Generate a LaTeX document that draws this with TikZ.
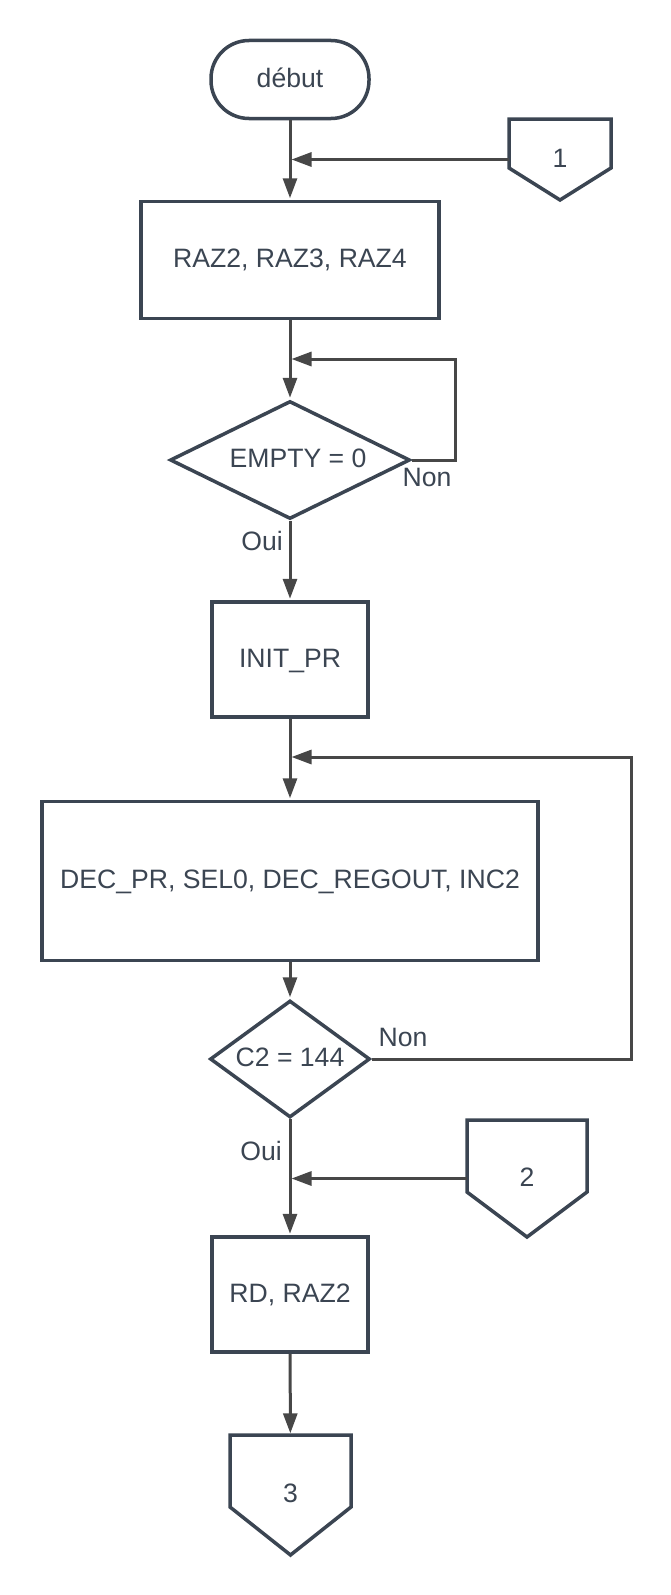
\documentclass[tikz,border=0pt]{standalone}
\usepackage{fontspec}
\setmainfont{Liberation Sans}
\usetikzlibrary{shapes.geometric,arrows.meta}
\definecolor{slate}{HTML}{3B4552}
\definecolor{conn}{HTML}{474747}
\begin{document}
\begin{tikzpicture}[x=1pt,y=-1pt,
  every node/.style={font=\fontsize{26.6}{30}\selectfont, text=slate},
  shapebox/.style={draw=slate, line width=3.5pt, fill=white, text height=19pt, text depth=4pt, inner sep=0pt},
  proc/.style={shapebox, rectangle},
  term/.style={shapebox, rectangle, rounded corners=38pt},
  dec/.style={shapebox, diamond},
  pent/.style={rectangle, inner sep=0pt, text height=19pt, text depth=4pt},
  pentline/.style={draw=slate, line width=3.5pt, fill=white},
  lab/.style={inner sep=0pt, text height=19pt, text depth=0pt},
  flow/.style={draw=conn, line width=3pt, shorten >=1.5pt, -{Triangle[length=20pt,width=14pt]}},
  ]
\useasboundingbox (0,0) rectangle (670,1595);

% pentagon outlines (off-page connectors)
\coordinate (p1nw) at (509,119); \coordinate (p1ne) at (611,119);
\coordinate (p1se) at (611,168); \coordinate (p1s) at (560,200); \coordinate (p1sw) at (509,168);
\draw[pentline] (p1nw) -- (p1ne) -- (p1se) -- (p1s) -- (p1sw) -- cycle;
\coordinate (p2nw) at (467,1120); \coordinate (p2ne) at (587,1120);
\coordinate (p2se) at (587,1192); \coordinate (p2s) at (527,1237); \coordinate (p2sw) at (467,1192);
\draw[pentline] (p2nw) -- (p2ne) -- (p2se) -- (p2s) -- (p2sw) -- cycle;
\coordinate (p3nw) at (230,1435); \coordinate (p3ne) at (351,1435);
\coordinate (p3se) at (351,1507); \coordinate (p3s) at (290.5,1555); \coordinate (p3sw) at (230,1507);
\draw[pentline] (p3nw) -- (p3ne) -- (p3se) -- (p3s) -- (p3sw) -- cycle;

% nodes
\node[term, minimum width=158pt, minimum height=78pt] (start) at (290,79.5) {début};
\node[proc, minimum width=298pt, minimum height=117pt] (raz) at (290,260) {RAZ2, RAZ3, RAZ4};
\node[dec, shape aspect=2, minimum width=240pt, minimum height=118pt] (d1) at (290,460) {\hspace*{16pt}EMPTY = 0};
\node[proc, minimum width=156pt, minimum height=115pt] (init) at (290,659.5) {INIT\_PR};
\node[proc, minimum width=496pt, minimum height=159pt] (dec) at (290,881) {DEC\_PR, SEL0, DEC\_REGOUT, INC2};
\node[dec, shape aspect=1.36, minimum width=160pt, minimum height=117pt] (d2) at (290,1059) {C2 = 144};
\node[proc, minimum width=156pt, minimum height=115pt] (rd) at (290,1294.5) {RD, RAZ2};
\node[pent, minimum width=102pt, minimum height=81pt] (p1) at (560,159.5) {1};
\node[pent, minimum width=120pt, minimum height=117pt] (p2) at (527,1178.5) {2};
\node[pent, minimum width=121pt, minimum height=120pt] (p3) at (290.5,1495) {3};

% labels
\node[lab] (oui1) at (262,541) {Oui};
\node[lab] (non1) at (427,477) {Non};
\node[lab] (non2) at (403,1037) {Non};
\node[lab] (oui2) at (261,1151) {Oui};

% junction coordinates
\coordinate (j2) at (290,359);
\coordinate (c1) at (455,359);
\coordinate (j3) at (290,757);
\coordinate (c2) at (631,757);

% connectors
\draw[flow] (start) -- (raz);
\draw[flow] (p1.west) -- (p1.west -| start);
\draw[flow] (raz) -- (d1);
\draw[flow] (d1.east) -| (c1) -- (j2);
\draw[flow] (d1) -- (init);
\draw[flow] (init) -- (dec);
\draw[flow] (d2.east) -| (c2) -- (j3);
\draw[flow] (dec) -- (d2);
\draw[flow] (d2) -- (rd);
\draw[flow] (p2.west) -- (p2.west -| rd);
\draw[flow] (rd) -- (p3);
\end{tikzpicture}
\end{document}
